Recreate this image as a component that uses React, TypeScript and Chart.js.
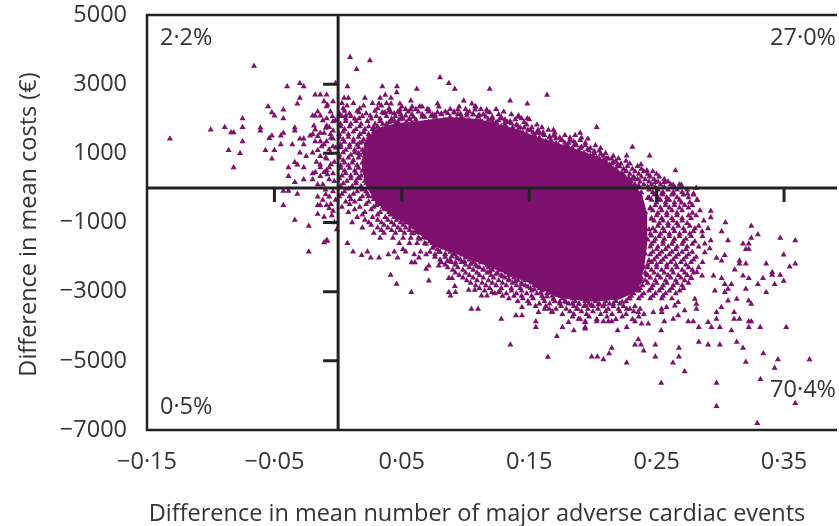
import { useEffect, useRef } from 'react';
import { Chart, registerables } from 'chart.js';

Chart.register(...registerables);

const xTickValues = [-0.15, -0.05, 0.05, 0.15, 0.25, 0.35];
const xTickLabels = ['−0·15', '−0·05', '0·05', '0·15', '0·25', '0·35'];
const yTickValues = [-7000, -5000, -3000, -1000, 1000, 3000, 5000];
const yTickLabels = ['−7000', '−5000', '−3000', '−1000', '1000', '3000', '5000'];
const xRange = [-0.15, 0.39];
const yRange = [-7000, 5000];
const quadrantLabels = ['2·2%', '27·0%', '0·5%', '70·4%'];
const xTitle = 'Difference in mean number of major adverse cardiac events';
const yTitle = 'Difference in mean costs (€)';

// outline of the solid, fully overlapping core of the cloud (x, cost)
const coreOutline: [number, number][] = [
  [0.046, 1850], [0.063, 1915], [0.087, 2030], [0.110, 1973], [0.134, 1742], [0.157, 1454],
  [0.181, 1166], [0.204, 878], [0.224, 389], [0.238, -187], [0.242, -763], [0.242, -1627],
  [0.2395, -2347], [0.234, -2981], [0.220, -3211], [0.1965, -3269], [0.173, -3154], [0.1534, -2779],
  [0.1339, -2491], [0.1143, -2203], [0.0947, -1915], [0.0791, -1714], [0.0673, -1426], [0.0556, -1051],
  [0.042, -780], [0.030, -400], [0.022, 100], [0.019, 700], [0.021, 1300], [0.030, 1700],
  [0.046, 1850],
];

// points sitting on the ragged border of the solid core (x, cost)
const edgePoints: [number, number][] = [
  [0.044, 1960], [0.049, 1800], [0.051, 1990], [0.053, 1860], [0.056, 2010], [0.058, 1880],
  [0.061, 1980], [0.062, 1870], [0.066, 2060], [0.068, 1880], [0.071, 1900], [0.073, 2080],
  [0.076, 2110], [0.078, 1930], [0.081, 2150], [0.083, 1960], [0.086, 2160], [0.088, 1970],
  [0.091, 2170], [0.093, 1990], [0.096, 2140], [0.098, 1960], [0.101, 2160], [0.103, 1950],
  [0.106, 2120], [0.108, 1930], [0.111, 2100], [0.113, 1900], [0.116, 2060], [0.118, 1870],
  [0.121, 2010], [0.123, 1820], [0.126, 1950], [0.128, 1780], [0.131, 1900], [0.133, 1720],
  [0.136, 1860], [0.138, 1670], [0.141, 1800], [0.143, 1610], [0.146, 1740], [0.148, 1550],
  [0.151, 1670], [0.153, 1480], [0.156, 1610], [0.158, 1420], [0.161, 1560], [0.163, 1350],
  [0.166, 1490], [0.168, 1300], [0.171, 1430], [0.173, 1240], [0.176, 1370], [0.178, 1180],
  [0.181, 1300], [0.183, 1120], [0.186, 1250], [0.188, 1060], [0.191, 1180], [0.193, 1000],
  [0.196, 1120], [0.198, 930], [0.201, 1060], [0.203, 870], [0.206, 980], [0.208, 790],
  [0.211, 860], [0.213, 670], [0.216, 740], [0.218, 550], [0.221, 620], [0.223, 420],
  [0.226, 490], [0.228, 290], [0.231, 280], [0.233, 80], [0.236, 60], [0.238, -130],
  [0.243, -300], [0.237, -380], [0.239, -520], [0.245, -600], [0.241, -700], [0.236, -780],
  [0.246, -900], [0.239, -980], [0.240, -1100], [0.244, -1200], [0.238, -1300], [0.246, -1380],
  [0.243, -1500], [0.237, -1580], [0.245, -1700], [0.239, -1780], [0.241, -1900], [0.236, -1990],
  [0.244, -2100], [0.238, -2190], [0.240, -2300], [0.235, -2380], [0.242, -2500], [0.236, -2590],
  [0.238, -2700], [0.233, -2790], [0.236, -2900], [0.230, -2990],
  [0.229, -3200], [0.226, -3020], [0.223, -3300], [0.220, -3120], [0.216, -3350], [0.213, -3160],
  [0.209, -3370], [0.207, -3170], [0.204, -3380], [0.202, -3190], [0.199, -3390], [0.197, -3200],
  [0.194, -3390], [0.192, -3200], [0.189, -3360], [0.187, -3170], [0.184, -3340], [0.182, -3150],
  [0.179, -3310], [0.177, -3120], [0.174, -3290], [0.172, -3090], [0.169, -3230], [0.167, -3030],
  [0.164, -3140], [0.162, -2940], [0.159, -3040], [0.157, -2850], [0.154, -2940], [0.152, -2740],
  [0.149, -2860], [0.147, -2670], [0.144, -2790], [0.142, -2600], [0.139, -2710], [0.137, -2520],
  [0.134, -2640], [0.132, -2450], [0.129, -2560], [0.127, -2370], [0.124, -2490], [0.122, -2300],
  [0.119, -2420], [0.117, -2230], [0.114, -2350], [0.112, -2160], [0.109, -2270], [0.107, -2080],
  [0.104, -2200], [0.102, -2010], [0.099, -2120], [0.097, -1930], [0.094, -2050], [0.092, -1860],
  [0.089, -1980], [0.087, -1790], [0.084, -1920], [0.082, -1730], [0.079, -1850], [0.077, -1660],
  [0.074, -1740], [0.072, -1550], [0.069, -1620], [0.067, -1430], [0.064, -1480], [0.062, -1280],
  [0.059, -1320], [0.057, -1130], [0.053, -1000], [0.057, -900],
  [0.045, -850], [0.036, -600], [0.030, -500], [0.024, -250], [0.019, -50], [0.026, 150],
  [0.016, 300], [0.022, 450], [0.015, 650], [0.021, 800], [0.016, 1000], [0.022, 1150],
  [0.017, 1300], [0.024, 1450], [0.020, 1600], [0.028, 1750], [0.035, 1850], [0.040, 1900],
];

// semi-dense fringe of the cloud, by cost row: [cost, x values]
const fringeRows: [number, number[]][] = [
  [2600, [0.008, 0.021, 0.033]],
  [2450, [0.003, 0.012, 0.027, 0.038]],
  [2375, [0.007, 0.020, 0.034]],
  [2300, [0.004, 0.017, 0.031, 0.040]],
  [2225, [0.005, 0.015, 0.029, 0.040]],
  [2150, [0.001, 0.009, 0.022, 0.036, 0.044]],
  [2075, [0.003, 0.010, 0.019, 0.030, 0.038, 0.045]],
  [2000, [0.006, 0.013, 0.026, 0.033, 0.042]],
  [1925, [0.006, 0.014, 0.023, 0.033, 0.042]],
  [1850, [0.002, 0.010, 0.018, 0.029, 0.038, 0.045]],
  [1775, [0.002, 0.009, 0.017, 0.024, 0.031, 0.038, 0.045]],
  [1700, [0.005, 0.014, 0.021, 0.027, 0.035, 0.041]],
  [1625, [0.004, 0.012, 0.020, 0.028, 0.035, 0.042]],
  [1550, [0.001, 0.008, 0.017, 0.024, 0.031, 0.039, 0.044]],
  [1475, [0.001, 0.008, 0.016, 0.024, 0.031, 0.037, 0.045]],
  [1400, [0.004, 0.012, 0.020, 0.028, 0.034, 0.041]],
  [1325, [0.005, 0.012, 0.019, 0.027, 0.034, 0.040]],
  [1250, [0.002, 0.009, 0.015, 0.023, 0.030, 0.037, 0.043]],
  [1175, [0.002, 0.009, 0.016, 0.023, 0.030, 0.037, 0.044]],
  [1100, [0.006, 0.013, 0.019, 0.026, 0.033, 0.040]],
  [1025, [0.004, 0.013, 0.020, 0.028, 0.035, 0.041]],
  [950, [0.001, 0.010, 0.017, 0.024, 0.031, 0.036, 0.044]],
  [875, [0.001, 0.008, 0.016, 0.024, 0.031, 0.038, 0.045]],
  [800, [0.004, 0.012, 0.021, 0.028, 0.035, 0.041]],
  [725, [0.005, 0.011, 0.019, 0.028, 0.035, 0.042]],
  [650, [0.002, 0.008, 0.015, 0.025, 0.032, 0.038, 0.045]],
  [575, [0.002, 0.009, 0.016, 0.023, 0.030, 0.038, 0.045]],
  [500, [0.005, 0.013, 0.019, 0.027, 0.034, 0.042]],
  [425, [0.006, 0.014, 0.021, 0.027, 0.034, 0.041]],
  [350, [0.003, 0.010, 0.018, 0.023, 0.030, 0.037, 0.044]],
  [275, [0.001, 0.010, 0.017, 0.025, 0.032, 0.039, 0.046]],
  [200, [0.007, 0.014, 0.021, 0.029, 0.035, 0.041]],
  [125, [0.004, 0.014, 0.022, 0.029, 0.036, 0.043]],
  [50, [0.002, 0.011, 0.018, 0.026, 0.033, 0.039, 0.045]],
  [-25, [0.008, 0.019, 0.026, 0.034, 0.041, 0.047]],
  [-100, [0.005, 0.015, 0.022, 0.030, 0.037, 0.043]],
  [-175, [0.003, 0.012, 0.023, 0.031, 0.038, 0.044]],
  [-250, [0.001, 0.009, 0.019, 0.027, 0.034, 0.040, 0.046]],
  [-325, [0.010, 0.017, 0.028, 0.036, 0.042, 0.048]],
  [-400, [0.006, 0.013, 0.024, 0.031, 0.038, 0.044]],
  [-475, [0.009, 0.022, 0.032, 0.039, 0.046, 0.051]],
  [-550, [0.003, 0.017, 0.028, 0.035, 0.042, 0.048]],
  [-625, [0.013, 0.026, 0.037, 0.044, 0.050]],
  [-700, [0.008, 0.021, 0.033, 0.040, 0.046, 0.052]],
  [-775, [0.019, 0.031, 0.041, 0.048, 0.054]],
  [-850, [0.015, 0.027, 0.037, 0.044, 0.050, 0.056]],
  [-925, [0.021, 0.031, 0.039, 0.046, 0.052]],
  [-1000, [0.011, 0.024, 0.034, 0.042, 0.049, 0.055]],
  [-1075, [0.026, 0.036, 0.044, 0.051, 0.057]],
  [-1150, [0.019, 0.031, 0.039, 0.047, 0.053, 0.060]],
  [-1225, [0.034, 0.042, 0.049, 0.056, 0.061]],
  [-1300, [0.028, 0.036, 0.045, 0.052, 0.058, 0.064]],
  [-1450, [0.033, 0.043, 0.051, 0.057, 0.063, 0.069]],
  [-1600, [0.048, 0.056, 0.062, 0.068, 0.074]],
  [2350, [0.050, 0.058, 0.066, 0.079, 0.095, 0.108]],
  [2275, [0.053, 0.061, 0.070, 0.088, 0.100, 0.112, 0.124]],
  [2200, [0.047, 0.055, 0.063, 0.071, 0.084, 0.091, 0.103, 0.117, 0.130]],
  [2125, [0.049, 0.058, 0.066, 0.074, 0.081, 0.094, 0.106, 0.114, 0.126, 0.136]],
  [2050, [0.050, 0.059, 0.068, 0.076, 0.088, 0.097, 0.110, 0.121, 0.128, 0.141]],
  [1975, [0.048, 0.056, 0.118, 0.131, 0.139, 0.150]],
  [1900, [0.047, 0.054, 0.098, 0.104, 0.113, 0.124, 0.133, 0.146]],
  [1825, [0.046, 0.122, 0.131, 0.140, 0.148, 0.156]],
  [1750, [0.048, 0.126, 0.137, 0.143, 0.152, 0.160]],
  [1675, [0.133, 0.141, 0.149, 0.157, 0.165]],
  [1600, [0.136, 0.145, 0.153, 0.161, 0.170]],
  [1525, [0.143, 0.154, 0.162, 0.170, 0.178, 0.186]],
  [1450, [0.150, 0.158, 0.166, 0.174, 0.182, 0.191]],
  [1375, [0.158, 0.167, 0.175, 0.182, 0.190]],
  [1300, [0.163, 0.171, 0.178, 0.186, 0.194]],
  [1225, [0.170, 0.180, 0.187, 0.194, 0.202]],
  [1150, [0.176, 0.184, 0.190, 0.198, 0.206]],
  [1075, [0.181, 0.189, 0.197, 0.205]],
  [1000, [0.185, 0.193, 0.201, 0.210]],
  [925, [0.192, 0.200, 0.208, 0.216]],
  [850, [0.197, 0.205, 0.212, 0.220]],
  [775, [0.203, 0.210, 0.218, 0.226]],
  [700, [0.208, 0.215, 0.222, 0.229]],
  [625, [0.212, 0.220, 0.227, 0.235]],
  [550, [0.216, 0.224, 0.231, 0.238]],
  [475, [0.219, 0.226, 0.233, 0.240, 0.247]],
  [400, [0.222, 0.229, 0.236, 0.243, 0.250]],
  [325, [0.225, 0.232, 0.238, 0.245, 0.252]],
  [250, [0.228, 0.235, 0.241, 0.248, 0.256]],
  [175, [0.230, 0.237, 0.244, 0.251, 0.259]],
  [100, [0.233, 0.240, 0.246, 0.253, 0.261, 0.268]],
  [25, [0.236, 0.243, 0.249, 0.256, 0.264]],
  [-50, [0.244, 0.251, 0.259, 0.266, 0.274]],
  [-125, [0.247, 0.255, 0.263, 0.270]],
  [-200, [0.248, 0.255, 0.262, 0.271, 0.279]],
  [-275, [0.244, 0.251, 0.258, 0.266, 0.275]],
  [-350, [0.246, 0.253, 0.260, 0.268, 0.282]],
  [-425, [0.250, 0.257, 0.264, 0.276]],
  [-500, [0.249, 0.257, 0.264, 0.272, 0.278]],
  [-575, [0.245, 0.253, 0.260, 0.268, 0.275]],
  [-650, [0.247, 0.254, 0.262, 0.270, 0.284]],
  [-725, [0.251, 0.258, 0.266, 0.278]],
  [-800, [0.250, 0.258, 0.266, 0.275, 0.281]],
  [-875, [0.246, 0.254, 0.262, 0.270, 0.277]],
  [-950, [0.248, 0.255, 0.263, 0.270, 0.287]],
  [-1025, [0.252, 0.259, 0.266, 0.274]],
  [-1100, [0.251, 0.259, 0.267, 0.276, 0.283]],
  [-1175, [0.247, 0.255, 0.263, 0.271, 0.280]],
  [-1250, [0.249, 0.256, 0.264, 0.272, 0.279]],
  [-1325, [0.245, 0.253, 0.260, 0.268, 0.276]],
  [-1400, [0.252, 0.260, 0.268, 0.277, 0.286]],
  [-1475, [0.249, 0.256, 0.264, 0.273]],
  [-1550, [0.248, 0.255, 0.263, 0.271, 0.280]],
  [-1625, [0.246, 0.255, 0.262, 0.270, 0.278]],
  [-1700, [0.251, 0.259, 0.266, 0.274, 0.283, 0.075, 0.083]],
  [-1775, [0.250, 0.257, 0.265, 0.273, 0.078, 0.086]],
  [-1850, [0.247, 0.254, 0.262, 0.270, 0.278, 0.072, 0.080, 0.088]],
  [-1925, [0.245, 0.252, 0.260, 0.267, 0.275, 0.076, 0.084, 0.091]],
  [-2000, [0.250, 0.257, 0.265, 0.273, 0.281, 0.076, 0.084, 0.093, 0.100]],
  [-2075, [0.248, 0.255, 0.263, 0.271, 0.279, 0.080, 0.088, 0.096, 0.103]],
  [-2150, [0.246, 0.253, 0.261, 0.269, 0.277, 0.286, 0.081, 0.089, 0.097, 0.106]],
  [-2225, [0.243, 0.250, 0.258, 0.265, 0.273, 0.084, 0.092, 0.100, 0.108]],
  [-2300, [0.243, 0.250, 0.258, 0.266, 0.275, 0.283, 0.086, 0.094, 0.103, 0.111, 0.118]],
  [-2375, [0.246, 0.254, 0.262, 0.270, 0.278, 0.090, 0.098, 0.106, 0.114, 0.121]],
  [-2450, [0.241, 0.248, 0.256, 0.263, 0.272, 0.279, 0.092, 0.100, 0.109, 0.117, 0.125]],
  [-2525, [0.243, 0.251, 0.259, 0.267, 0.274, 0.095, 0.103, 0.111, 0.120, 0.128, 0.134]],
  [-2600, [0.238, 0.245, 0.253, 0.261, 0.269, 0.277, 0.098, 0.106, 0.114, 0.122, 0.131, 0.138]],
  [-2675, [0.241, 0.249, 0.257, 0.265, 0.272, 0.101, 0.109, 0.118, 0.126, 0.134, 0.141]],
  [-2750, [0.236, 0.243, 0.250, 0.258, 0.266, 0.275, 0.104, 0.113, 0.121, 0.129, 0.137, 0.144]],
  [-2825, [0.239, 0.247, 0.255, 0.263, 0.270, 0.108, 0.116, 0.124, 0.132, 0.140, 0.147, 0.154]],
  [-2900, [0.237, 0.246, 0.254, 0.262, 0.271, 0.111, 0.119, 0.128, 0.136, 0.143, 0.151, 0.158]],
  [-2975, [0.236, 0.244, 0.252, 0.260, 0.268, 0.115, 0.127, 0.136, 0.144, 0.152, 0.160, 0.167]],
  [-3050, [0.232, 0.240, 0.249, 0.257, 0.265, 0.123, 0.132, 0.140, 0.148, 0.156, 0.164]],
  [-3125, [0.230, 0.238, 0.247, 0.255, 0.129, 0.138, 0.144, 0.152, 0.160, 0.168, 0.175, 0.182]],
  [-3200, [0.228, 0.236, 0.245, 0.254, 0.262, 0.134, 0.145, 0.153, 0.161, 0.169, 0.176, 0.184]],
  [-3275, [0.141, 0.149, 0.162, 0.170, 0.178, 0.186, 0.194, 0.202, 0.210, 0.218, 0.226]],
  [-3350, [0.150, 0.158, 0.166, 0.174, 0.181, 0.189, 0.197, 0.205, 0.213, 0.221]],
  [-3425, [0.155, 0.163, 0.175, 0.185, 0.193, 0.200, 0.208, 0.216, 0.224, 0.233]],
  [-3500, [0.162, 0.171, 0.179, 0.188, 0.196, 0.204, 0.212, 0.220, 0.229, 0.237]],
  [-3575, [0.168, 0.182, 0.191, 0.200, 0.210, 0.221, 0.232]],
  [-3650, [0.176, 0.185, 0.195, 0.206, 0.215, 0.226, 0.240]],
  [-3725, [0.184, 0.197, 0.211, 0.223, 0.236]],
  [-3800, [0.190, 0.203, 0.218, 0.231]],
  [2200, [-0.016, -0.006]],
  [1950, [-0.012, -0.002]],
  [1800, [-0.019, -0.009]],
  [1550, [-0.020, -0.006]],
  [1200, [-0.013, -0.004]],
  [1000, [-0.006]],
  [750, [-0.017, -0.003]],
  [450, [-0.018, -0.011]],
  [100, [-0.016, -0.012]],
  [-50, [-0.010]],
  [-350, [-0.012, -0.002]],
  [-800, [-0.005]],
  [-1000, [-0.003]],
  [-1200, [-0.001]],
];

// individually readable points around the cloud (x, cost)
const sparsePoints: [number, number][] = [
  [-0.066, 3528], [-0.132, 1425], [-0.100, 1685], [-0.089, 1751], [-0.084, 1600], [-0.082, 1600],
  [-0.075, 2010], [-0.075, 1751], [-0.075, 1340], [-0.086, 1090], [-0.077, 1000], [-0.082, 590],
  [-0.061, 1740], [-0.061, 1650], [-0.057, 1090], [-0.052, 840], [-0.050, 1090], [-0.054, 1434],
  [-0.052, 1512], [-0.045, 1512], [-0.043, 1590], [-0.045, 1253], [-0.055, 2356], [-0.052, 2183],
  [-0.050, 2088], [-0.043, 2261], [-0.043, 2010], [-0.040, 2932], [-0.030, 3030], [-0.027, 2932],
  [-0.030, 2598], [-0.032, 2434], [-0.036, 1253], [-0.034, 1740], [-0.034, 1650], [-0.030, 1425],
  [-0.027, 1425], [-0.030, 1014], [-0.027, 1253], [-0.025, 916], [-0.022, 1512], [-0.039, 590],
  [-0.034, 743], [-0.032, 668], [-0.039, 340], [-0.034, 167], [-0.027, 590], [-0.027, 245],
  [-0.020, 245], [-0.020, 418], [-0.014, 340], [-0.014, 668], [-0.043, -92], [-0.039, -92],
  [-0.032, -178], [-0.043, -504], [-0.034, -927], [-0.023, -1100], [-0.023, -1849], [-0.011, -1578],
  [-0.009, -1512], [-0.016, -253], [-0.016, -504], [-0.014, -504], [-0.016, -754], [-0.011, -841],
  [-0.009, -504], [-0.007, -590], [-0.004, -668], [-0.007, -253], [-0.004, -100], [-0.018, 2693],
  [-0.014, 2693], [-0.009, 2693], [-0.011, 2500], [-0.009, 2356], [-0.004, 2500], [-0.020, 2088],
  [-0.018, 2088], [-0.014, 2088], [-0.009, 2010], [-0.004, 1924], [-0.007, 1751], [-0.004, 1650],
  [-0.018, 1685], [-0.014, 1590], [-0.011, 1590], [-0.016, 1492], [-0.018, 1340], [-0.014, 1340],
  [-0.011, 1253], [-0.009, 1340], [-0.004, 1425], [-0.007, 1109], [-0.016, 1090], [-0.020, 1014],
  [-0.014, 916], [-0.009, 840], [-0.007, 590], [-0.014, 590], [-0.009, 513], [-0.004, 418],
  [-0.007, 245], [-0.002, 3030], [-0.0084, 2405], [-0.0045, 2068], [-0.0097, 1734], [-0.0057, 1446],
  [-0.0018, 1158], [-0.0097, 870], [-0.0057, 677], [-0.0084, 389], [-0.003, 196], [-0.0097, -187],
  [-0.0057, -475], [-0.0084, -1532],
  [0.0094, 3779], [0.025, 3681], [0.0145, 3433], [0.0073, 2932], [0.0047, 2598], [0.0347, 2932],
  [0.0462, 2932], [0.046, 2759], [0.037, 2684], [0.0415, 2598], [0.0415, 2434], [0.032, 2434],
  [0.0485, 2434], [0.0618, 2857], [0.0571, 2520], [0.080, 3191], [0.0869, 3030], [0.0916, 2857],
  [0.078, 2434], [0.0986, 2520], [0.105, 2434], [0.1075, 2356], [0.1075, 2261], [0.119, 2857],
  [0.135, 2520], [0.1485, 2434], [0.164, 2684], [0.1166, 2261], [0.119, 2183], [0.1417, 2088],
  [0.144, 2010], [0.1485, 2010], [0.094, 2261], [0.0712, 2261], [0.064, 2356], [0.0665, 2088],
  [0.0757, 2088], [0.078, 2183], [0.0571, 2261], [0.053, 2088], [0.0347, 2183], [0.0368, 2183],
  [0.0415, 2183], [0.0164, 2183], [0.0164, 2010], [0.0253, 2088], [0.006, 2088], [0.0008, 2088],
  [0.0485, 2261], [0.0485, 2183], [0.101, 2088], [0.096, 2010], [0.103, 1924], [0.110, 2088],
  [0.112, 1924], [0.121, 1924], [0.128, 2010], [0.135, 1924], [0.133, 1676], [0.156, 1590],
  [0.158, 1590], [0.169, 1676], [0.169, 1503], [0.190, 1590], [0.185, 1340], [0.196, 1425],
  [0.203, 1751], [0.1417, 1503], [0.135, 1503], [0.123, 1676], [0.126, 1676], [0.1166, 1676],
  [0.231, 1186], [0.2445, 927], [0.2265, 927], [0.210, 840], [0.2147, 840], [0.2194, 677],
  [0.210, 590], [0.2082, 590], [0.2377, 677], [0.2424, 504], [0.2648, 504], [0.2445, 340],
  [0.233, 245], [0.2265, 167], [0.249, 167], [0.256, 167], [0.263, 81], [0.2695, 81],
  [0.281, -6], [0.279, -167], [0.2742, -167], [0.2816, -351], [0.2695, -426], [0.263, -167],
  [0.2586, -351], [0.254, -167], [0.2513, -351], [0.2925, -668], [0.2925, -858], [0.304, -1002],
  [0.3243, -1100], [0.301, -1261], [0.2904, -1175], [0.2857, -1261], [0.3295, -1348], [0.3243, -1446],
  [0.347, -1446], [0.3588, -1521], [0.306, -1521], [0.2925, -1521], [0.2878, -1618], [0.2917, -1751],
  [0.2878, -1866], [0.3178, -1618], [0.3223, -1618], [0.320, -1771], [0.3223, -1771], [0.3497, -1935],
  [0.3035, -1944], [0.297, -2030], [0.301, -2108], [0.315, -2108], [0.320, -2195], [0.315, -2195],
  [0.336, -2195], [0.3588, -2195], [0.3544, -2281], [0.3113, -2367], [0.3178, -2540], [0.3223, -2615],
  [0.3407, -2442], [0.3407, -2520], [0.347, -2520], [0.3497, -2693], [0.3426, -2788], [0.3335, -2615],
  [0.3295, -2788], [0.2946, -2540], [0.301, -2615], [0.3087, -2788], [0.3035, -2788], [0.2857, -2540],
  [0.2816, -2442], [0.2772, -2615],
  [0.336, -3018], [0.320, -2923], [0.3223, -3260], [0.3243, -3355], [0.306, -2923], [0.306, -3260],
  [0.3129, -3211], [0.3108, -3594], [0.315, -3787], [0.3108, -3787], [0.3008, -3450], [0.297, -3594],
  [0.297, -3787], [0.2996, -4026], [0.293, -4026], [0.2904, -3882], [0.2957, -2972], [0.3035, -3018],
  [0.3517, -4026], [0.3313, -4026], [0.3223, -4026], [0.3223, -3865], [0.3243, -3865], [0.3087, -4124],
  [0.3129, -4458], [0.3178, -4631], [0.320, -5034], [0.3337, -4786], [0.3452, -4959], [0.3426, -5207],
  [0.370, -4959], [0.3315, -5535], [0.3588, -6227], [0.329, -6803], [0.297, -5639], [0.297, -6313],
  [0.2536, -5639], [0.272, -5305], [0.2628, -5054], [0.2675, -4882], [0.2675, -4631], [0.249, -4882],
  [0.249, -4536], [0.2398, -4709], [0.2356, -4383], [0.233, -4536], [0.2377, -4536], [0.2265, -5054],
  [0.2147, -4631], [0.2127, -4786], [0.2082, -4959], [0.2035, -4882], [0.199, -4882], [0.2194, -4124],
  [0.2265, -4026], [0.2536, -4124], [0.2831, -4458], [0.2904, -4536], [0.2996, -4536], [0.2831, -4026],
  [0.2748, -3865], [0.2787, -3865], [0.256, -3865], [0.263, -3787], [0.2669, -3692], [0.272, -3548],
  [0.2812, -3499], [0.2812, -3355], [0.280, -3211], [0.2669, -3306], [0.2539, -3499], [0.2434, -3931],
  [0.2382, -3931], [0.233, -3865], [0.2147, -3865], [0.2121, -3865], [0.2082, -3865], [0.203, -3865],
  [0.1939, -4026], [0.1939, -3865], [0.1887, -3787], [0.2265, -3499], [0.2356, -3594], [0.2474, -3594],
  [0.254, -3594], [0.2578, -3450], [0.2643, -3404],
  [0.0073, -1598], [0.0117, -1849], [0.0185, -1944], [0.023, -1849], [0.0256, -2022], [0.0321, -2022],
  [0.0394, -1924], [0.0441, -1849], [0.0467, -2022], [0.0509, -1771], [0.053, -1849], [0.0412, -2520],
  [0.0459, -2779], [0.0574, -3018], [0.0712, -2684], [0.0577, -2154], [0.0603, -2154], [0.0634, -2022],
  [0.0597, -1924], [0.0647, -1849], [0.0691, -1924], [0.0691, -2347], [0.0712, -2252], [0.079, -2252],
  [0.0804, -2154], [0.0856, -2117], [0.0877, -2117], [0.0921, -2154], [0.0869, -2615], [0.0895, -2615],
  [0.0916, -2845], [0.0882, -3116], [0.0869, -3018], [0.0921, -3018], [0.1025, -2952], [0.1072, -2952],
  [0.1046, -3499], [0.1098, -3499], [0.1125, -3116], [0.1169, -3116], [0.1208, -3018], [0.126, -3018],
  [0.1281, -3787], [0.1352, -4536], [0.1396, -3692], [0.1443, -3692], [0.1443, -3450], [0.1552, -3865],
  [0.1552, -4026], [0.1573, -3594], [0.1657, -3499], [0.1678, -3594], [0.1717, -4286], [0.1761, -4026],
  [0.1808, -3882], [0.185, -4124], [0.1873, -3499], [0.1939, -3882], [0.1939, -4075], [0.1646, -4890],
];

const PURPLE = '#7e106e';
const INK = '#222222';
const TEXT = '#333333';
const FONT_FAMILY = '"Open Sans", sans-serif';
const FONT_SIZE = 23.5;

const framePlugin = {
  id: 'frameAndLabels',
  afterDatasetsDraw(chart: any) {
    const { ctx, chartArea: a, scales } = chart;
    const x = scales.x;
    const y = scales.y;
    ctx.save();
    ctx.strokeStyle = INK;
    ctx.lineCap = 'butt';
    ctx.lineWidth = 2.5;
    ctx.beginPath();
    ctx.moveTo(a.right + 2, a.top);
    ctx.lineTo(a.left, a.top);
    ctx.lineTo(a.left, a.bottom);
    ctx.lineTo(a.right + 2, a.bottom);
    ctx.stroke();
    const x0 = x.getPixelForValue(0);
    const y0 = y.getPixelForValue(0);
    ctx.lineWidth = 3;
    ctx.beginPath();
    ctx.moveTo(x0, a.top);
    ctx.lineTo(x0, a.bottom);
    ctx.moveTo(a.left, y0);
    ctx.lineTo(a.right + 2, y0);
    ctx.stroke();
    ctx.beginPath();
    xTickValues
      .filter((v) => v > x.min && v < x.max)
      .forEach((v) => {
        const px = x.getPixelForValue(v);
        ctx.moveTo(px, y0);
        ctx.lineTo(px, y0 + 14);
      });
    yTickValues
      .filter((v) => v > y.min && v < y.max)
      .forEach((v) => {
        const py = y.getPixelForValue(v);
        ctx.moveTo(x0, py);
        ctx.lineTo(x0 - 15, py);
      });
    ctx.stroke();
    ctx.restore();
  },
  afterDraw(chart: any) {
    const { ctx, chartArea: a } = chart;
    ctx.save();
    ctx.fillStyle = TEXT;
    ctx.font = `${FONT_SIZE}px ${FONT_FAMILY}`;
    ctx.textBaseline = 'alphabetic';
    ctx.textAlign = 'left';
    ctx.fillText(quadrantLabels[0], a.left + 13, a.top + 30);
    ctx.fillText(quadrantLabels[2], a.left + 13, a.bottom - 16);
    ctx.textAlign = 'right';
    ctx.fillText(quadrantLabels[1], a.right + 1, a.top + 30);
    ctx.fillText(quadrantLabels[3], a.right + 1, a.bottom - 33);
    ctx.textAlign = 'center';
    ctx.fillText(xTitle, a.left + 330, 521);
    ctx.translate(36, (a.top + a.bottom) / 2 + 2);
    ctx.rotate(-Math.PI / 2);
    ctx.fillText(yTitle, 0, 0);
    ctx.restore();
  },
};

export default function App() {
  const canvasRef = useRef<HTMLCanvasElement | null>(null);

  useEffect(() => {
    document.body.style.margin = '0';
    const canvas = canvasRef.current;
    if (!canvas) return;

    const cloud = [
      ...sparsePoints.map(([x, y]) => ({ x, y })),
      ...edgePoints.map(([x, y]) => ({ x, y })),
      ...fringeRows.flatMap(([y, xs]) => xs.map((x) => ({ x, y }))),
    ];
    const core = coreOutline.map(([x, y]) => ({ x, y }));

    const tickFont = { family: FONT_FAMILY, size: FONT_SIZE };

    const chart = new Chart(canvas, {
      type: 'scatter',
      data: {
        datasets: [
          {
            type: 'scatter',
            data: cloud,
            pointStyle: 'triangle',
            pointRadius: 3.5,
            backgroundColor: PURPLE,
            pointBackgroundColor: PURPLE,
            pointBorderWidth: 0,
            borderWidth: 0,
            order: 0,
          } as any,
          {
            type: 'line',
            data: core,
            fill: 'shape',
            backgroundColor: PURPLE,
            borderColor: PURPLE,
            borderWidth: 1.5,
            pointRadius: 0,
            tension: 0,
            order: 1,
          } as any,
        ],
      },
      options: {
        animation: false,
        responsive: true,
        maintainAspectRatio: false,
        events: [],
        layout: { padding: { top: 15, left: 0, right: 0, bottom: 0 } },
        plugins: { legend: { display: false }, tooltip: { enabled: false } },
        scales: {
          x: {
            type: 'linear',
            min: xRange[0],
            max: xRange[1],
            grid: { display: false, drawTicks: false },
            border: { display: false },
            afterBuildTicks: (scale: any) => {
              scale.ticks = xTickValues.map((value) => ({ value }));
            },
            afterFit: (scale: any) => {
              scale.height = 96;
              scale.paddingLeft = 0;
              scale.paddingRight = 0;
            },
            ticks: {
              autoSkip: false,
              maxRotation: 0,
              padding: 18,
              color: TEXT,
              font: tickFont,
              callback: (value: any) => xTickLabels[xTickValues.indexOf(Number(value))] ?? '',
            },
          },
          y: {
            type: 'linear',
            min: yRange[0],
            max: yRange[1],
            grid: { display: false, drawTicks: false },
            border: { display: false },
            afterBuildTicks: (scale: any) => {
              scale.ticks = yTickValues.map((value) => ({ value }));
            },
            afterFit: (scale: any) => {
              scale.width = 147;
              scale.paddingTop = 0;
              scale.paddingBottom = 0;
            },
            ticks: {
              autoSkip: false,
              padding: 20,
              color: TEXT,
              font: tickFont,
              callback: (value: any) => yTickLabels[yTickValues.indexOf(Number(value))] ?? '',
            },
          },
        },
      } as any,
      plugins: [framePlugin],
    });

    return () => chart.destroy();
  }, []);

  return (
    <div style={{ width: 839, height: 526, position: 'relative' }}>
      <canvas ref={canvasRef} />
    </div>
  );
}
